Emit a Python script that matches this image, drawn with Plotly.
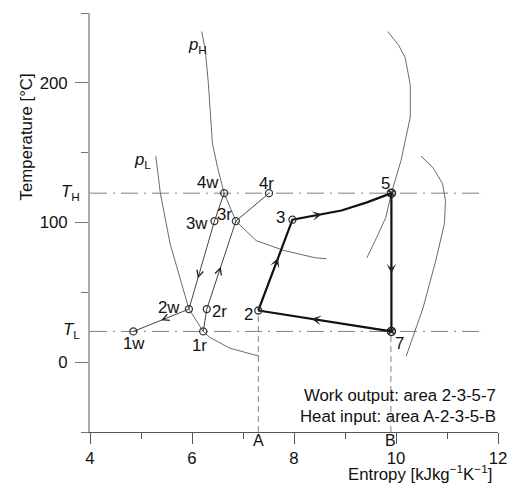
import plotly.graph_objects as go

# ---------------- data ----------------
T_H = 121
T_L = 22
S_A = 7.3
S_B = 9.9

# isobar p_H
pH_s = [6.19, 6.26, 6.32, 6.36, 6.40, 6.50, 6.63, 6.86, 7.26, 7.80, 8.41, 8.64]
pH_T = [236.7, 223.7, 200, 175.5, 156.8, 139.6, 121, 101, 87, 80, 74.8, 74]
# isobar p_L
pL_s = [5.29, 5.38, 5.57, 5.77, 5.94, 6.22, 6.34, 6.74, 7.32]
pL_T = [147.5, 120.9, 84.9, 60.4, 38, 22, 18, 10, 4.3]
# curve through 5
c1_s = [9.835, 10.046, 10.18, 10.28, 10.28, 10.10, 9.91, 9.80, 9.62, 9.43]
c1_T = [236.7, 227.3, 218, 198.6, 175.5, 144.6, 121, 103.6, 89.2, 74.8]
# outer right curve
c2_s = [10.49, 10.72, 10.91, 10.97, 10.95, 10.78, 10.53, 10.20]
c2_T = [147.5, 139.6, 128, 115.8, 99.3, 72.7, 38.8, 4.3]

# process "w"
w_names = ["4w", "3w", "2w", "1w"]
w_s = [6.63, 6.44, 5.94, 4.85]
w_T = [121, 101, 38, 22]
# process "r"
r_names = ["1r", "2r", "3r", "4r"]
r_s = [6.22, 6.29, 6.86, 7.51]
r_T = [22, 38, 101, 121]
# cycle 2-3-5-7
cyc_names = ["2", "3", "5", "7"]
cyc_s = [7.30, 7.97, 8.93, 9.43, 9.91, 9.91, 7.30]
cyc_T = [37, 102, 108.6, 114.4, 121, 22, 37]
pt_s = [7.30, 7.97, 9.91, 9.91]
pt_T = [37, 102, 121, 22]

x_ticks = [4, 6, 8, 10, 12]
y_ticks = [0, 100, 200]

FONT = "Liberation Sans, Arial, sans-serif"
TXT = "#111111"
FS = 16.8

fig = go.Figure()

def line(xs, ys, color, width, dash="solid"):
    fig.add_trace(go.Scatter(x=xs, y=ys, mode="lines",
                             line=dict(color=color, width=width, dash=dash),
                             hoverinfo="skip", showlegend=False))

# reference lines
line([4, 11.75], [T_H, T_H], "#808080", 1, "17px,6px,2px,6px")
line([4, 11.75], [T_L, T_L], "#808080", 1, "17px,6px,2px,6px")
line([S_A, S_A], [-50, cyc_T[0]], "#808080", 1, "6px,4px")
line([S_B, S_B], [-50, T_L], "#808080", 1, "6px,4px")

# property curves
for xs, ys in [(pH_s, pH_T), (pL_s, pL_T), (c1_s, c1_T), (c2_s, c2_T)]:
    line(xs, ys, "#6a6a6a", 1)

# processes
line(w_s, w_T, "#444444", 1)
line(r_s, r_T, "#444444", 1)
line(cyc_s, cyc_T, "#111111", 2.2)

# markers
fig.add_trace(go.Scatter(x=w_s + r_s + pt_s[:2], y=w_T + r_T + pt_T[:2], mode="markers",
                         marker=dict(symbol="circle-open", size=7, color="#333",
                                     line=dict(width=1.3, color="#333")),
                         hoverinfo="skip", showlegend=False))
fig.add_trace(go.Scatter(x=pt_s[2:], y=pt_T[2:], mode="markers",
                         marker=dict(symbol="circle-x-open", size=8, color="#222",
                                     line=dict(width=1.5, color="#222")),
                         hoverinfo="skip", showlegend=False))

ann = []

def arrow(x0, y0, x1, y1, t, d, width, size, head):
    xa = x0 + (x1 - x0) * (t - d)
    ya = y0 + (y1 - y0) * (t - d)
    xh = x0 + (x1 - x0) * (t + d)
    yh = y0 + (y1 - y0) * (t + d)
    ann.append(dict(x=xh, y=yh, ax=xa, ay=ya, xref="x", yref="y", axref="x", ayref="y",
                    showarrow=True, arrowhead=head, arrowsize=size, arrowwidth=width,
                    arrowcolor="#222", text=""))

# thin process arrows
arrow(w_s[1], w_T[1], w_s[2], w_T[2], 0.62, 0.03, 1, 1.3, 5)
arrow(w_s[2], w_T[2], w_s[3], w_T[3], 0.45, 0.05, 1, 1.3, 5)
arrow(r_s[1], r_T[1], r_s[2], r_T[2], 0.45, 0.03, 1, 1.3, 5)
arrow(r_s[2], r_T[2], r_s[3], r_T[3], 0.55, 0.05, 1, 1.3, 5)
# cycle arrows
arrow(pt_s[0], pt_T[0], pt_s[1], pt_T[1], 0.55, 0.03, 1.8, 0.9, 3)
arrow(cyc_s[1], cyc_T[1], cyc_s[2], cyc_T[2], 0.55, 0.05, 1.8, 0.9, 3)
arrow(pt_s[2], pt_T[2], pt_s[3], pt_T[3], 0.55, 0.03, 1.8, 0.9, 3)
arrow(pt_s[3], pt_T[3], pt_s[0], pt_T[0], 0.58, 0.02, 1.8, 0.9, 3)

def label(text, x, y, xs, ys, size=FS):
    ann.append(dict(x=x, y=y, xref="x", yref="y", text=text, showarrow=False,
                    xshift=xs, yshift=ys, font=dict(size=size, color=TXT, family=FONT)))

w_off = [(-16, 11), (-17, -2), (-20, 2), (1, -12)]
r_off = [(-4, -14), (13, -2), (-11, 7), (-3, 10)]
c_off = [(-10, -4), (-12, 2), (-6, 10), (8, -12)]
for n, x, y, o in zip(w_names, w_s, w_T, w_off):
    label(n, x, y, *o)
for n, x, y, o in zip(r_names, r_s, r_T, r_off):
    label(n, x, y, *o)
for n, x, y, o in zip(cyc_names, pt_s, pt_T, c_off):
    label(n, x, y, *o)

label("<i>p</i><sub>H</sub>", 6.11, 227, 0, 0)
label("<i>p</i><sub>L</sub>", 5.02, 144.6, 0, 0)
label("A", S_A, -50, 0, -8, 16)
label("B", S_B, -50, 0, -8, 16)

for t, y in [("<i>T</i><sub>H</sub>", T_H), ("<i>T</i><sub>L</sub>", T_L)]:
    ann.append(dict(x=0, xref="paper", y=y, yref="y", text=t, showarrow=False,
                    xanchor="right", xshift=-8, yshift=1,
                    font=dict(size=FS, color=TXT, family=FONT)))

ann.append(dict(x=1.0, y=0.088, xref="paper", yref="paper", xanchor="right", yanchor="middle",
                text="Work output: area 2-3-5-7", showarrow=False,
                font=dict(size=FS, color=TXT, family=FONT)))
ann.append(dict(x=1.0, y=0.036, xref="paper", yref="paper", xanchor="right", yanchor="middle",
                text="Heat input: area A-2-3-5-B", showarrow=False,
                font=dict(size=FS, color=TXT, family=FONT)))
ann.append(dict(x=0.808, y=-0.0985, xref="paper", yref="paper", xanchor="center", yanchor="middle",
                text="Entropy [kJkg<sup>−1</sup>K<sup>−1</sup>]", showarrow=False,
                font=dict(size=FS, color=TXT, family=FONT)))
ann.append(dict(x=-0.156, y=0.704, xref="paper", yref="paper", xanchor="center", yanchor="middle",
                text="Temperature [°C]", textangle=-90, showarrow=False,
                font=dict(size=FS, color=TXT, family=FONT)))

fig.update_layout(
    width=519, height=484,
    margin=dict(l=90, r=12, t=13, b=52),
    paper_bgcolor="white", plot_bgcolor="white",
    annotations=ann,
    xaxis=dict(range=[4, 12], showgrid=False, zeroline=False,
               showline=True, linecolor="#555", linewidth=1,
               tickvals=x_ticks, ticks="outside", ticklen=11, tickcolor="#555", tickwidth=1,
               tickfont=dict(size=FS, color=TXT, family=FONT), ticklabelstandoff=0,
               minor=dict(tickvals=[5, 7, 9, 11], ticks="outside", ticklen=6,
                          tickcolor="#555", tickwidth=1)),
    yaxis=dict(range=[-50, 250], showgrid=False, zeroline=False,
               showline=True, linecolor="#aaa", linewidth=2,
               tickvals=y_ticks, ticks="outside", ticklen=13, tickcolor="#777", tickwidth=1,
               tickfont=dict(size=FS, color=TXT, family=FONT), ticklabelstandoff=4,
               minor=dict(tickvals=[-50, 50, 150, 250], ticks="outside", ticklen=7,
                          tickcolor="#777", tickwidth=1)),
)

fig.write_html("out.html")
